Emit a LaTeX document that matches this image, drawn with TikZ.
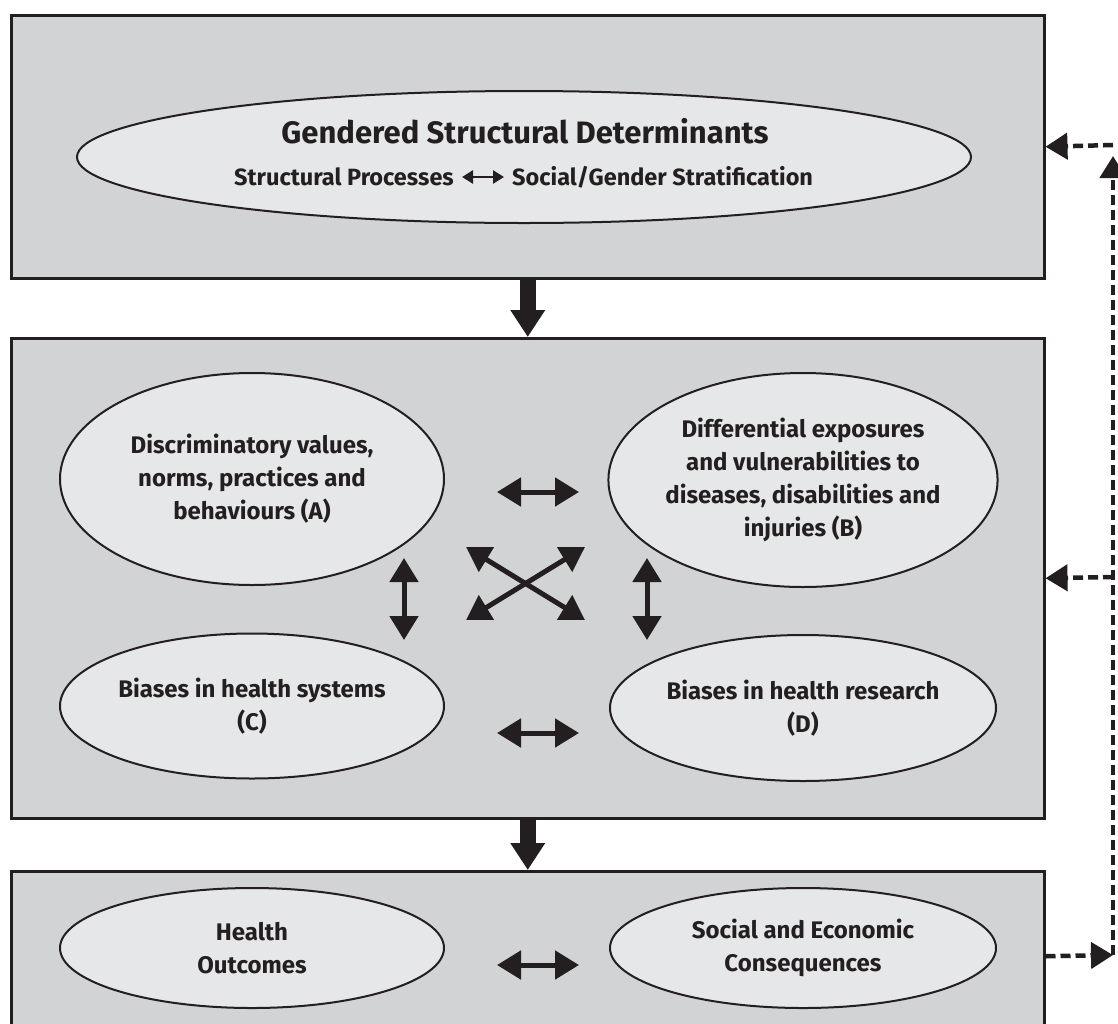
\documentclass[tikz,border=0pt]{standalone}
\usepackage{fontspec}
\setmainfont{Fira Sans}
\usetikzlibrary{arrows.meta,shapes.geometric,calc}
\definecolor{boxfill}{HTML}{D1D3D4}
\definecolor{ellfill}{HTML}{E6E7E8}
\definecolor{ink}{HTML}{231F20}
\begin{document}
\begin{tikzpicture}[x=1pt,y=-1pt,
  panel/.style={draw=ink, line width=2.5pt, fill=boxfill, rectangle, inner sep=0pt, anchor=north west},
  oval/.style={ellipse, draw=ink, line width=2pt, fill=ellfill, inner sep=0pt, align=center,
    font=\bfseries\fontsize{24}{33}\selectfont, text=ink},
  txt/.style={inner sep=0pt, text=ink, font=\bfseries\fontsize{23.5}{26}\selectfont},
  bigarrow/.style={line width=16pt, draw=ink, -{Triangle[width=33pt,length=27pt]}},
  dbl/.style={line width=5pt, draw=ink, {Triangle[width=28pt,length=24pt]}-{Triangle[width=28pt,length=24pt]}},
  fb/.style={line width=4.5pt, draw=ink, dash pattern=on 10pt off 5pt, -{Triangle[width=26pt,length=22pt]}},
]
\useasboundingbox (0,0) rectangle (1118,1023);
\clip (0,0) rectangle (1118,1023);

% panels
\node[panel, minimum width=1033pt, minimum height=263pt] (top) at (10,14) {};
\node[panel, minimum width=1033pt, minimum height=480pt] (mid) at (10,337) {};
\node[panel, minimum width=1033pt, minimum height=170pt] (bot) at (10,870) {};

% top ellipse
\node[oval, minimum width=894pt, minimum height=132pt] (gsd) at (524,157) {};
\node[txt, font=\bfseries\fontsize{31}{34}\selectfont] (title) at (525,131) {Gendered Structural Determinants};
\node[txt, anchor=east] (sp) at (454,177) {Structural Processes};
\node[txt, anchor=west] (ss) at (512,177) {Social/Gender Stratification};
\draw[line width=2.5pt, draw=ink, {Triangle[width=13pt,length=11pt]}-{Triangle[width=13pt,length=11pt]}]
  ($(sp.east)+(8,0)$) -- ($(ss.west)+(-8,0)$);

% middle ellipses
\node[oval, minimum width=384pt, minimum height=212pt] (A) at (252,479)
  {Discriminatory values,\\norms, practices and\\behaviours (A)};
\node[oval, minimum width=386pt, minimum height=214pt] (B) at (803,480)
  {Differential exposures\\and vulnerabilities to\\diseases, disabilities and\\injuries (B)};
\node[oval, minimum width=384pt, minimum height=145pt] (C) at (252,706)
  {Biases in health systems\\(C)};
\node[oval, minimum width=386pt, minimum height=146pt] (D) at (803,708)
  {Biases in health research\\(D)};

% bottom ellipses
\node[oval, minimum width=384pt, minimum height=120pt] (H) at (252,948)
  {Health\\Outcomes};
\node[oval, minimum width=386pt, minimum height=120pt] (S) at (803,948)
  {Social and Economic\\Consequences};

% down arrows
\draw[bigarrow] (top.south) -- (mid.north);
\draw[bigarrow] (mid.south) -- (bot.north);

% interaction arrows
\coordinate (ab1) at (497,492); \coordinate (ab2) at (579,492);
\coordinate (cd1) at (497,733); \coordinate (cd2) at (579,733);
\coordinate (hs1) at (497,965); \coordinate (hs2) at (579,965);
\coordinate (ac1) at (404,558); \coordinate (ac2) at (404,640);
\coordinate (bd1) at (647,558); \coordinate (bd2) at (647,640);
\coordinate (x1) at (466,547); \coordinate (x2) at (585,620);
\coordinate (x3) at (585,547); \coordinate (x4) at (466,620);
\draw[dbl] (ab1) -- (ab2);
\draw[dbl] (cd1) -- (cd2);
\draw[dbl] (hs1) -- (hs2);
\draw[dbl] (ac1) -- (ac2);
\draw[dbl] (bd1) -- (bd2);
\draw[dbl] (x1) -- (x2);
\draw[dbl] (x3) -- (x4);

% feedback loop
\coordinate (corner) at (1113,955);
\coordinate (ftop) at (1113,145);
\coordinate (fmid) at (1113,577);
\coordinate (uptip) at (1113,156);
\draw[fb] (bot.east) -- (corner);
\draw[fb] (corner) -- (uptip);
\draw[fb] (ftop) -- (top.east);
\draw[fb] (fmid) -- (mid.east);
\end{tikzpicture}
\end{document}
